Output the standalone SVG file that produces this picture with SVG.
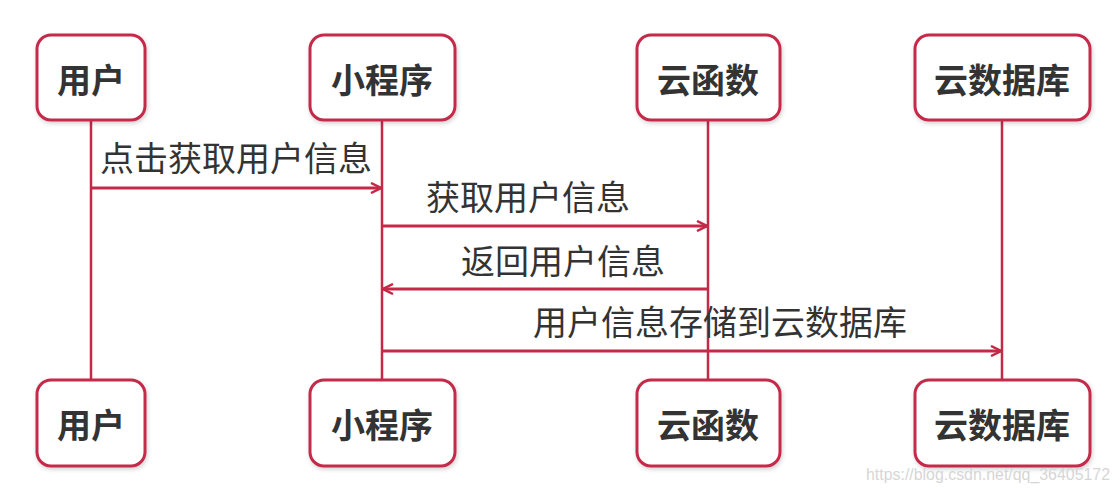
<svg xmlns="http://www.w3.org/2000/svg" width="1119" height="490" viewBox="0 0 1119 490">
<style>
.box{fill:#ffffff;stroke:#c42a48;stroke-width:3}
.title{font-family:"Noto Sans CJK SC","Liberation Sans",sans-serif;font-weight:bold;font-size:34px;fill:#333333;text-anchor:middle;dominant-baseline:central}
.lbl{font-family:"Noto Sans CJK SC","Liberation Sans",sans-serif;font-size:34px;fill:#333333;text-anchor:middle}
.life{stroke:#c42a48;stroke-width:2.5;fill:none}
.msg{stroke:#c42a48;stroke-width:3;fill:none}
.wm{font-family:"Liberation Sans",sans-serif;font-size:16px;fill:#d6d6d6}
</style>
<defs>
<filter id="sh" x="-10%" y="-10%" width="130%" height="130%">
<feDropShadow dx="1" dy="2" stdDeviation="2" flood-color="#000" flood-opacity="0.18"/>
</filter>
<marker id="ah" viewBox="0 0 12 12" refX="11" refY="6" markerWidth="12" markerHeight="12" markerUnits="userSpaceOnUse" orient="auto">
<path d="M1,1 L11,6 L1,11" fill="none" stroke="#c42a48" stroke-width="2.5"/>
</marker>
</defs>
<g id="lifelines">
<line class="life" x1="91" y1="120" x2="91" y2="380"/>
<line class="life" x1="382" y1="120" x2="382" y2="380"/>
<line class="life" x1="708" y1="120" x2="708" y2="380"/>
<line class="life" x1="1002" y1="120" x2="1002" y2="380"/>
</g>
<g id="connectors">
<line class="msg" x1="91" y1="188" x2="381" y2="188" marker-end="url(#ah)"/>
<text class="lbl" x="236" y="171">点击获取用户信息</text>
<line class="msg" x1="382" y1="226" x2="707" y2="226" marker-end="url(#ah)"/>
<text class="lbl" x="528" y="210">获取用户信息</text>
<line class="msg" x1="708" y1="289" x2="383" y2="289" marker-end="url(#ah)"/>
<text class="lbl" x="563" y="274">返回用户信息</text>
<line class="msg" x1="382" y1="351" x2="1001" y2="351" marker-end="url(#ah)"/>
<text class="lbl" x="720" y="335">用户信息存储到云数据库</text>
</g>
<g id="user-top"><rect class="box" x="37" y="35" width="108" height="85" rx="14" filter="url(#sh)"/><text class="title" x="91" y="78">用户</text></g>
<g id="app-top"><rect class="box" x="310" y="35" width="145" height="85" rx="14" filter="url(#sh)"/><text class="title" x="382" y="78">小程序</text></g>
<g id="func-top"><rect class="box" x="637" y="35" width="143" height="85" rx="14" filter="url(#sh)"/><text class="title" x="708" y="78">云函数</text></g>
<g id="db-top"><rect class="box" x="915" y="35" width="175" height="85" rx="14" filter="url(#sh)"/><text class="title" x="1002" y="78">云数据库</text></g>
<g id="user-bottom"><rect class="box" x="37" y="380" width="108" height="86" rx="14" filter="url(#sh)"/><text class="title" x="91" y="423">用户</text></g>
<g id="app-bottom"><rect class="box" x="310" y="380" width="145" height="86" rx="14" filter="url(#sh)"/><text class="title" x="382" y="423">小程序</text></g>
<g id="func-bottom"><rect class="box" x="637" y="380" width="143" height="86" rx="14" filter="url(#sh)"/><text class="title" x="708" y="423">云函数</text></g>
<g id="db-bottom"><rect class="box" x="915" y="380" width="175" height="86" rx="14" filter="url(#sh)"/><text class="title" x="1002" y="423">云数据库</text></g>
<text class="wm" x="866" y="480" textLength="244" lengthAdjust="spacingAndGlyphs">https://blog.csdn.net/qq_36405172</text>
</svg>
